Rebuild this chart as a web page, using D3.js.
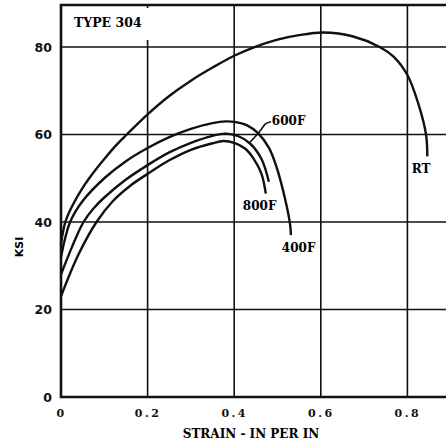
<!DOCTYPE html>
<html>
<head>
<meta charset="utf-8">
<script src="https://cdn.jsdelivr.net/npm/d3@7"></script>
<style>
  body { margin: 0; background: #fff; }
  svg { display: block; }
  .tick text { fill: #111; }
</style>
</head>
<body>
<svg width="446" height="444"></svg>
<script>
// tick values and labels
var xTicks = [0, 0.2, 0.4, 0.6, 0.8];
var xTickLabels = ["0", "0.2", "0.4", "0.6", "0.8"];
var yTicks = [0, 20, 40, 60, 80];

// curves: strain (in/in) and stress (ksi)
var rtStrain = [0, 0.01, 0.025, 0.05, 0.075, 0.1, 0.125, 0.152, 0.2, 0.25, 0.3, 0.35, 0.4, 0.45, 0.5, 0.55, 0.605, 0.675, 0.736, 0.768, 0.8, 0.825, 0.843, 0.846];
var rtStress = [35, 40, 43.5, 47.8, 51.3, 54.4, 57.3, 60, 64.6, 68.8, 72.3, 75.3, 78, 80.1, 81.7, 82.7, 83.3, 82.4, 80, 77.8, 73.6, 67.1, 60, 55];

var f400Strain = [0, 0.021, 0.05, 0.1, 0.15, 0.2, 0.25, 0.3, 0.35, 0.38, 0.4, 0.43, 0.455, 0.48, 0.497, 0.517, 0.529, 0.531];
var f400Stress = [32, 40, 44.8, 50, 53.9, 56.9, 59.4, 61.3, 62.6, 63, 62.9, 62.1, 60.3, 57, 52.8, 45.5, 39.5, 37];

var f600Strain = [0, 0.025, 0.052, 0.075, 0.1, 0.15, 0.2, 0.25, 0.3, 0.35, 0.38, 0.41, 0.436, 0.463, 0.48];
var f600Stress = [28, 34.2, 40, 43.1, 45.6, 49.7, 53, 55.9, 58.1, 59.7, 60.2, 59.6, 58, 54.4, 49.2];

var f800Strain = [0, 0.04, 0.082, 0.12, 0.16, 0.2, 0.25, 0.3, 0.35, 0.375, 0.4, 0.425, 0.444, 0.463, 0.473];
var f800Stress = [23, 32.5, 40, 44.8, 48.3, 51, 54.1, 56.5, 58, 58.5, 58.1, 56.8, 54.6, 51, 46.5];

var curveNames = ["RT", "400F", "600F", "800F"];

var svg = d3.select('svg');

var x = d3.scaleLinear().domain([0, 0.9]).range([61, 450.7]);
var y = d3.scaleLinear().domain([0, 80]).range([397, 47]);
var yTop = y.invert(5);

var serif = "'DejaVu Serif', 'Liberation Serif', serif";
var sans = "'DejaVu Sans', 'Liberation Sans', sans-serif";

// grid lines
svg.append('g').selectAll('line.v')
    .data(xTicks.slice(1))
    .enter().append('line')
    .attr('x1', function(d){ return x(d); })
    .attr('x2', function(d){ return x(d); })
    .attr('y1', function(d){ return d === 0.2 ? y(81.6) : y(yTop); })
    .attr('y2', y(0))
    .attr('stroke', '#111')
    .attr('stroke-width', 1.6);

// little tick left at the top for the 0.2 line
svg.append('line')
    .attr('x1', x(0.2)).attr('x2', x(0.2))
    .attr('y1', y(yTop)).attr('y2', y(yTop) + 3)
    .attr('stroke', '#111').attr('stroke-width', 1.6);

svg.append('g').selectAll('line.h')
    .data(yTicks.slice(1))
    .enter().append('line')
    .attr('x1', x(0))
    .attr('x2', 446)
    .attr('y1', function(d){ return y(d); })
    .attr('y2', function(d){ return y(d); })
    .attr('stroke', '#111')
    .attr('stroke-width', 1.6);

// frame
svg.append('path')
    .attr('d', 'M446,' + y(yTop) + 'H' + x(0) + 'V' + y(0) + 'H446')
    .attr('fill', 'none')
    .attr('stroke', '#111')
    .attr('stroke-width', 2.6);

// axes (labels only)
var yAxis = svg.append('g')
    .attr('transform', 'translate(' + x(0) + ',0)')
    .call(d3.axisLeft(y).tickValues(yTicks).tickSize(0).tickPadding(9));
yAxis.select('.domain').remove();
yAxis.selectAll('text')
    .style('font-family', sans)
    .style('font-weight', 'bold')
    .style('font-size', '12.5px');

var xAxis = svg.append('g')
    .attr('transform', 'translate(0,' + y(0) + ')')
    .call(d3.axisBottom(x).tickValues(xTicks).tickSize(0).tickPadding(12)
        .tickFormat(function(d, i){ return xTickLabels[i]; }));
xAxis.select('.domain').remove();
xAxis.selectAll('text')
    .style('font-family', serif)
    .style('font-weight', 'bold')
    .style('font-size', '11px')
    .style('letter-spacing', '2.5px');

// axis titles
svg.append('text')
    .attr('x', 251)
    .attr('y', 438)
    .attr('text-anchor', 'middle')
    .style('font-family', serif)
    .style('font-weight', 'bold')
    .style('font-size', '12px')
    .text('STRAIN - IN PER IN');

svg.append('text')
    .attr('transform', 'translate(23,247) rotate(-90)')
    .attr('text-anchor', 'middle')
    .style('font-family', sans)
    .style('font-weight', 'bold')
    .style('font-size', '11px')
    .text('KSI');

// curves
var line = d3.line()
    .x(function(d){ return x(d[0]); })
    .y(function(d){ return y(d[1]); })
    .curve(d3.curveCatmullRom.alpha(0.5));

var series = [
    d3.zip(rtStrain, rtStress),
    d3.zip(f400Strain, f400Stress),
    d3.zip(f600Strain, f600Stress),
    d3.zip(f800Strain, f800Stress)
];

svg.append('g').selectAll('path')
    .data(series)
    .enter().append('path')
    .attr('d', line)
    .attr('fill', 'none')
    .attr('stroke', '#111')
    .attr('stroke-width', 2.4);

// leader for 600F
var leader600 = [[0.485, 62.9], [0.471, 62.6], [0.461, 60.8], [0.437, 58.3]];
svg.append('path')
    .attr('d', d3.line()
        .x(function(d){ return x(d[0]); })
        .y(function(d){ return y(d[1]); })
        .curve(d3.curveBasis)(leader600))
    .attr('fill', 'none')
    .attr('stroke', '#111')
    .attr('stroke-width', 1.6);

// labels
var labelPos = [[0.81, 51.2], [0.51, 33.1], [0.487, 62.2], [0.42, 42.7]];
svg.append('g').selectAll('text')
    .data(curveNames)
    .enter().append('text')
    .attr('x', function(d, i){ return x(labelPos[i][0]); })
    .attr('y', function(d, i){ return y(labelPos[i][1]); })
    .style('font-family', serif)
    .style('font-weight', 'bold')
    .style('font-size', '12px')
    .text(function(d){ return d; });

svg.append('text')
    .attr('x', x(0.03))
    .attr('y', y(84.6))
    .style('font-family', serif)
    .style('font-weight', 'bold')
    .style('font-size', '12.5px')
    .text('TYPE 304');
</script>
</body>
</html>
